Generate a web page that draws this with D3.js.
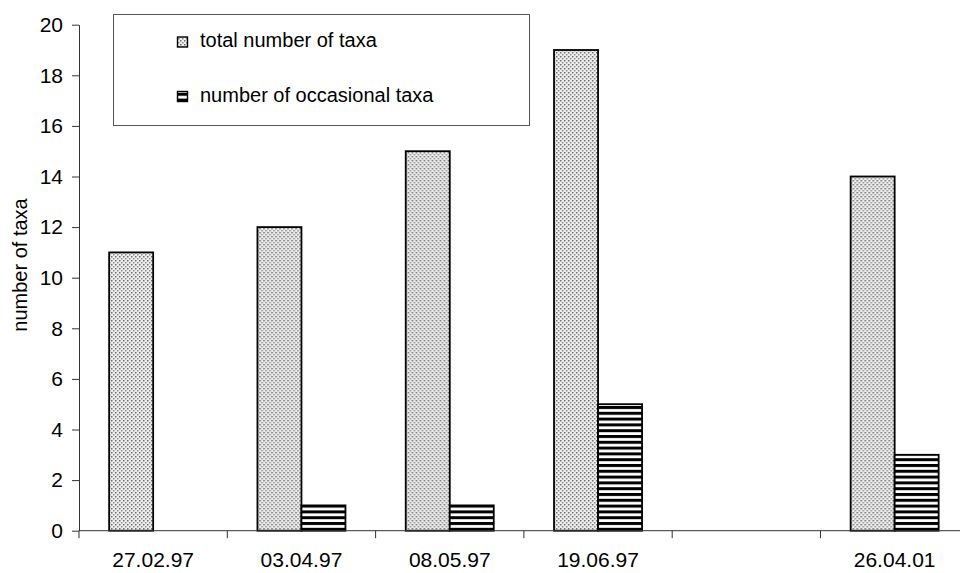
<!DOCTYPE html>
<html>
<head>
<meta charset="utf-8">
<script src="https://cdn.jsdelivr.net/npm/d3@7"></script>
<style>
  html, body { margin: 0; padding: 0; background: #fff; }
  svg { display: block; font-family: "Liberation Sans", Arial, sans-serif; }
</style>
</head>
<body>
<svg id="chart" width="960" height="573"></svg>
<script>
// Sampling dates (the fifth slot is an empty gap on the axis)
const categories = ["27.02.97", "03.04.97", "08.05.97", "19.06.97", "", "26.04.01"];
const seriesNames = ["total number of taxa", "number of occasional taxa"];
const totalTaxa = [11, 12, 15, 19, null, 14];
const occasionalTaxa = [0, 1, 1, 5, null, 3];
const yTicks = [0, 2, 4, 6, 8, 10, 12, 14, 16, 18, 20];

const svg = d3.select("#chart");
const margin = { left: 79, top: 24.7, bottom: 530.7, right: 968.8 };

// Patterns: light stippled fill and black horizontal stripes
const defs = svg.append("defs");
const dots = defs.append("pattern").attr("id", "dots")
  .attr("patternUnits", "userSpaceOnUse").attr("width", 4).attr("height", 4);
dots.append("rect").attr("width", 4).attr("height", 4).attr("fill", "#efefef");
dots.append("rect").attr("x", 0).attr("y", 0).attr("width", 1.5).attr("height", 1.5).attr("fill", "#6a6a6a");
dots.append("rect").attr("x", 2).attr("y", 2).attr("width", 1.5).attr("height", 1.5).attr("fill", "#8a8a8a");

const stripes = defs.append("pattern").attr("id", "stripes")
  .attr("patternUnits", "userSpaceOnUse").attr("width", 6).attr("height", 5.8);
stripes.append("rect").attr("width", 6).attr("height", 5.8).attr("fill", "#fff");
stripes.append("rect").attr("y", 0).attr("width", 6).attr("height", 3).attr("fill", "#000");

const fills = ["url(#dots)", "url(#stripes)"];

// Scales
const x0 = d3.scaleBand().domain(d3.range(categories.length))
  .range([margin.left, margin.right]).paddingInner(0).paddingOuter(0);
const x1 = d3.scaleBand().domain([0, 1])
  .range([0, x0.bandwidth()]).paddingInner(0).paddingOuter(0.685);
const y = d3.scaleLinear().domain([0, 20]).range([margin.bottom, margin.top]);

// Bars
const rows = categories.map((c, i) => ({ i, values: [totalTaxa[i], occasionalTaxa[i]] }));
const groups = svg.append("g").selectAll("g").data(rows).join("g")
  .attr("transform", d => `translate(${x0(d.i)},0)`);
groups.selectAll("rect")
  .data(d => d.values.map((v, s) => ({ v, s })).filter(e => e.v != null && e.v > 0))
  .join("rect")
  .attr("x", e => x1(e.s))
  .attr("width", x1.bandwidth())
  .attr("y", e => y(e.v))
  .attr("height", e => y(0) - y(e.v))
  .attr("fill", e => fills[e.s])
  .attr("stroke", "#000")
  .attr("stroke-width", 1.8);

// Y axis
const yAxis = svg.append("g").attr("transform", `translate(${margin.left},0)`)
  .call(d3.axisLeft(y).tickValues(yTicks).tickSize(7).tickPadding(9).tickSizeOuter(0));
yAxis.select(".domain").attr("stroke", "#333");
yAxis.selectAll(".tick line").attr("stroke", "#333");
yAxis.selectAll(".tick text").attr("font-size", 21).attr("fill", "#000")
  .attr("font-family", "Liberation Sans, Arial, sans-serif");

// X axis: ticks at band boundaries, labels centred in bands
const xAxisG = svg.append("g");
xAxisG.append("line")
  .attr("x1", margin.left).attr("x2", margin.right)
  .attr("y1", y(0)).attr("y2", y(0)).attr("stroke", "#333");
const boundaries = d3.range(categories.length + 1).map(i =>
  i < categories.length ? x0(i) : x0(i - 1) + x0.bandwidth());
xAxisG.selectAll("line.tick").data(boundaries).join("line").attr("class", "tick")
  .attr("x1", d => d).attr("x2", d => d)
  .attr("y1", y(0)).attr("y2", y(0) + 7.5).attr("stroke", "#333");
xAxisG.selectAll("text").data(rows).join("text")
  .attr("x", d => x0(d.i) + x0.bandwidth() / 2)
  .attr("y", 567)
  .attr("text-anchor", "middle")
  .attr("font-size", 21)
  .text(d => categories[d.i]);

// Y axis title
svg.append("text")
  .attr("transform", "translate(27,265) rotate(-90)")
  .attr("text-anchor", "middle")
  .attr("font-size", 20)
  .text("number of taxa");

// Legend
const legend = svg.append("g");
legend.append("rect")
  .attr("x", 113.5).attr("y", 14.5).attr("width", 416).attr("height", 111)
  .attr("fill", "#fff").attr("stroke", "#555").attr("stroke-width", 1);
const legendY = [47, 101.5];
seriesNames.forEach((name, s) => {
  legend.append("rect")
    .attr("x", 177.5).attr("y", legendY[s] - 10).attr("width", 10).attr("height", 10)
    .attr("fill", fills[s]).attr("stroke", "#000").attr("stroke-width", 1.4);
  legend.append("text")
    .attr("x", 200).attr("y", legendY[s])
    .attr("font-size", 20)
    .text(name);
});
</script>
</body>
</html>
